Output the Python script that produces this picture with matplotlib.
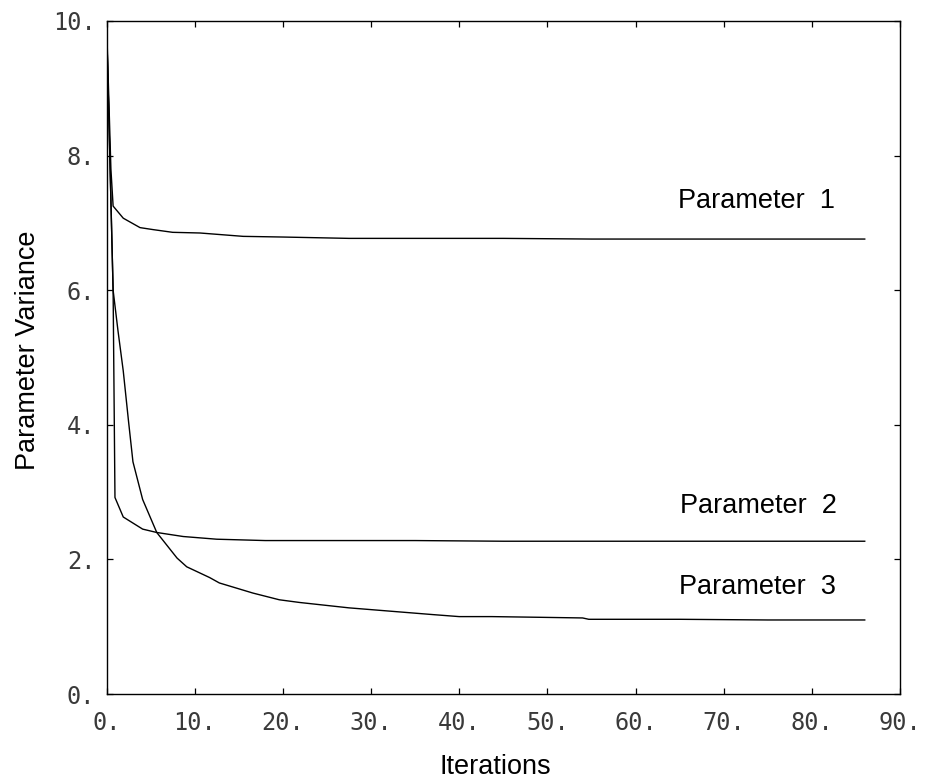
import matplotlib
matplotlib.use("Agg")
import matplotlib.pyplot as plt
from matplotlib import font_manager

# ---- data ----
p1_x = [0, 0.5, 0.75, 1.9, 3.8, 5.3, 7.5, 10.6, 15.5, 20, 27.5, 35, 45, 55, 65, 75, 86]
p1_y = [10, 7.8, 7.25, 7.07, 6.93, 6.90, 6.86, 6.85, 6.80, 6.79, 6.77, 6.77, 6.77, 6.76, 6.76, 6.76, 6.76]

p2_x = [0, 0.75, 0.96, 1.9, 4.1, 5.7, 8.7, 12.5, 18, 25, 35, 45, 55, 65, 75, 86]
p2_y = [10, 6.0, 2.92, 2.63, 2.45, 2.40, 2.34, 2.30, 2.28, 2.28, 2.28, 2.27, 2.27, 2.27, 2.27, 2.27]

p3_x = [0, 0.75, 1.3, 1.9, 2.5, 3.0, 4.1, 5.7, 8.0, 9.1, 11.7, 12.8, 16.6, 19.6, 21.9, 27.5, 31.3, 37, 40, 43.7, 49, 54, 54.7, 65, 75, 86]
p3_y = [10, 6.0, 5.4, 4.8, 4.05, 3.45, 2.89, 2.40, 2.02, 1.89, 1.73, 1.65, 1.50, 1.40, 1.36, 1.28, 1.24, 1.18, 1.15, 1.15, 1.14, 1.13, 1.11, 1.11, 1.10, 1.10]

series_labels = ["Parameter  1", "Parameter  2", "Parameter  3"]
label_x = [64.8, 65.1, 64.9]
label_y = [7.22, 2.69, 1.49]

x_ticks = [0, 10, 20, 30, 40, 50, 60, 70, 80, 90]
y_ticks = [0, 2, 4, 6, 8, 10]
x_tick_labels = ["0.", "10.", "20.", "30.", "40.", "50.", "60.", "70.", "80.", "90."]
y_tick_labels = ["0.", "2.", "4.", "6.", "8.", "10."]

# ---- fonts ----
avail = {f.name for f in font_manager.fontManager.ttflist}
narrow = "Liberation Sans Narrow" in avail
text_family = (["Liberation Sans Narrow"] if narrow else ["Liberation Sans"]) + ["DejaVu Sans"]
text_size = 21 if narrow else 19.5
mono_family = ["DejaVu Sans Mono"]

fig = plt.figure(figsize=(9.32, 7.84), dpi=100)
ax = fig.add_axes([106.5 / 932, 90 / 784, 793.5 / 932, 673 / 784])

lw = 1.0
for xs, ys in [(p1_x, p1_y), (p2_x, p2_y), (p3_x, p3_y)]:
    ax.plot(xs, ys, color="black", lw=lw)

ax.set_xlim(0, 90)
ax.set_ylim(0, 10)

for s in ax.spines.values():
    s.set_linewidth(1.0)
    s.set_color("black")

tick_color = "#3a3a3a"
ax.set_xticks(x_ticks)
ax.set_xticklabels(x_tick_labels, family=mono_family, fontsize=17, color=tick_color)
ax.set_yticks(y_ticks)
ax.set_yticklabels(y_tick_labels, family=mono_family, fontsize=17, color=tick_color)
ax.tick_params(axis="x", direction="in", length=4.5, width=0.9, top=True, pad=12)
ax.tick_params(axis="y", direction="in", length=4.5, width=0.9, right=True, pad=8)

ax.set_xlabel("Iterations", family=text_family, fontsize=text_size)
ax.set_ylabel("Parameter Variance", family=text_family, fontsize=text_size)
ax.xaxis.set_label_coords((495 - 106.5) / 793.5, -0.089)
ax.yaxis.set_label_coords(-0.0825, 0.511)

for lab, lx, ly in zip(series_labels, label_x, label_y):
    ax.text(lx, ly, lab, family=text_family, fontsize=text_size, ha="left", va="baseline")

fig.savefig("out.png", dpi=100, facecolor="white")
